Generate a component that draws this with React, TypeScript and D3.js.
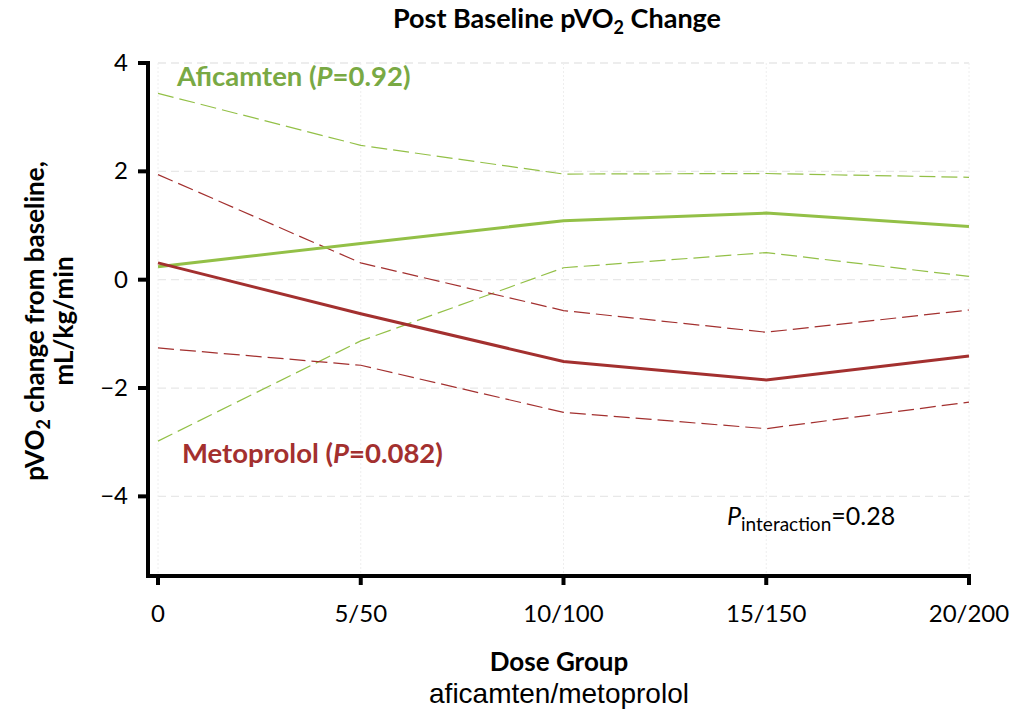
import React from "react";
import * as d3 from "d3";

const doseGroups = ["0", "5/50", "10/100", "15/150", "20/200"];
const yTicks = [4, 2, 0, -2, -4];

const aficamtenMean = [0.24, 0.67, 1.09, 1.23, 0.98];
const aficamtenUpper = [3.44, 2.48, 1.95, 1.96, 1.89];
const aficamtenLower = [-2.98, -1.13, 0.22, 0.5, 0.06];

const metoprololMean = [0.31, -0.63, -1.51, -1.85, -1.41];
const metoprololUpper = [1.94, 0.31, -0.57, -0.97, -0.56];
const metoprololLower = [-1.26, -1.58, -2.45, -2.75, -2.26];

const GREEN = "#93c047";
const GREEN_TEXT = "#79a944";
const RED = "#a3302f";

const W = 1010;
const H = 712;
const FONT = "Lato, 'Open Sans', sans-serif";

export default function App() {
  const x = d3.scalePoint<string>().domain(doseGroups).range([158, 969]);
  const y = d3.scaleLinear().domain([-5.47, 4]).range([576, 63]);
  const line = d3
    .line<number>()
    .x((_, i) => x(doseGroups[i]) as number)
    .y((d) => y(d));

  const axisX = 148;
  const axisY = 576;

  return (
    <svg width={W} height={H} style={{ position: "absolute", left: 0, top: 0, background: "#fff" }}>
      {/* gridlines */}
      {yTicks.map((t) => (
        <line key={"gy" + t} x1={x(doseGroups[0])} x2={x(doseGroups[4])} y1={y(t)} y2={y(t)}
          stroke="#e8e8e8" strokeWidth={1.3} strokeDasharray="8,5" />
      ))}
      {doseGroups.map((g) => (
        <line key={"gx" + g} x1={x(g)} x2={x(g)} y1={y(4)} y2={axisY}
          stroke="#eeeeee" strokeWidth={1} strokeDasharray="2,2" />
      ))}

      {/* CI lines */}
      <path d={line(aficamtenUpper) || ""} fill="none" stroke={GREEN} strokeWidth={1.2} strokeDasharray="16,6" />
      <path d={line(aficamtenLower) || ""} fill="none" stroke={GREEN} strokeWidth={1.2} strokeDasharray="16,6" />
      <path d={line(metoprololUpper) || ""} fill="none" stroke={RED} strokeWidth={1.2} strokeDasharray="16,6" />
      <path d={line(metoprololLower) || ""} fill="none" stroke={RED} strokeWidth={1.2} strokeDasharray="16,6" />

      {/* mean lines */}
      <path d={line(aficamtenMean) || ""} fill="none" stroke={GREEN} strokeWidth={3} />
      <path d={line(metoprololMean) || ""} fill="none" stroke={RED} strokeWidth={3} />

      {/* axes */}
      <line x1={axisX} x2={axisX} y1={y(4) - 2} y2={axisY + 2} stroke="#000" strokeWidth={4} />
      <line x1={axisX - 2} x2={x(doseGroups[4]) + 2} y1={axisY} y2={axisY} stroke="#000" strokeWidth={4} />
      {yTicks.map((t) => (
        <g key={"yt" + t}>
          <line x1={axisX - 10} x2={axisX} y1={y(t)} y2={y(t)} stroke="#000" strokeWidth={4} />
          <text x={128} y={y(t) + 8} textAnchor="end" fontFamily={FONT} fontSize={24} fill="#000">
            {t < 0 ? "\u2212" + Math.abs(t) : String(t)}
          </text>
        </g>
      ))}
      {doseGroups.map((g) => (
        <g key={"xt" + g}>
          <line x1={x(g)} x2={x(g)} y1={axisY} y2={axisY + 9} stroke="#000" strokeWidth={4} />
          <text x={x(g)} y={622} textAnchor="middle" fontFamily={FONT} fontSize={24} fill="#000">{g}</text>
        </g>
      ))}

      {/* title */}
      <text x={557} y={28} textAnchor="middle" fontFamily={FONT} fontSize={27} fontWeight="bold" fill="#000">
        Post Baseline pVO<tspan fontSize={18} dy={6}>2</tspan><tspan dy={-6}> Change</tspan>
      </text>

      {/* y label */}
      <g transform="translate(44,321) rotate(-90)">
        <text x={0} y={0} textAnchor="middle" fontFamily={FONT} fontSize={26} fontWeight="bold" fill="#000">
          pVO<tspan fontSize={18} dy={6}>2</tspan><tspan dy={-6}> change from baseline,</tspan>
        </text>
        <text x={0} y={29} textAnchor="middle" fontFamily={FONT} fontSize={26} fontWeight="bold" fill="#000">
          mL/kg/min
        </text>
      </g>

      {/* x label */}
      <text x={559} y={671} textAnchor="middle" fontFamily={FONT} fontSize={26} fontWeight="bold" fill="#000">Dose Group</text>
      <text x={559} y={703} textAnchor="middle" fontFamily="'Liberation Sans', Arial, sans-serif" fontSize={28} fill="#000">aficamten/metoprolol</text>

      {/* series labels */}
      <text x={177} y={86} fontFamily={FONT} fontSize={27.5} fontWeight="bold" fill={GREEN_TEXT}>
        Aficamten (<tspan fontStyle="italic">P</tspan>=0.92)
      </text>
      <text x={182} y={463} fontFamily={FONT} fontSize={27.5} fontWeight="bold" fill={RED}>
        Metoprolol (<tspan fontStyle="italic">P</tspan>=0.082)
      </text>

      {/* interaction */}
      <text x={727} y={525} fontFamily={FONT} fontSize={25} fill="#000">
        <tspan fontStyle="italic">P</tspan><tspan fontSize={19} dy={6}>interaction</tspan><tspan dy={-6}>=0.28</tspan>
      </text>
    </svg>
  );
}
